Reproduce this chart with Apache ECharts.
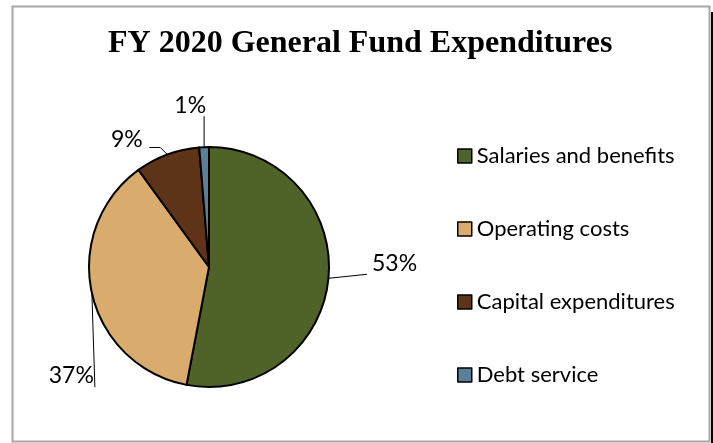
<!DOCTYPE html>
<html><head><meta charset="utf-8">
<script src="https://cdn.jsdelivr.net/npm/echarts@6/dist/echarts.min.js"></script>
<style>html,body{margin:0;padding:0;background:#fff}#c{width:713px;height:443px}</style>
</head><body><div id="c"></div>
<script>
const titleText = 'FY 2020 General Fund Expenditures';
const categories = ['Salaries and benefits', 'Operating costs', 'Capital expenditures', 'Debt service'];
const values = [53.0, 37.0, 8.7, 1.3];
const colors = ['#4F6228', '#D9AB6D', '#5E3318', '#5B7F96'];

// layout
const cx = 209, cy = 267, R = 120;
const labelCfg = [
  { dx: 43.5, dy: -15, align: 'left', line: [[38.5, -4]] },
  { dx: 2, dy: 82, align: 'right', line: [[3, 94]] },
  { dx: -24.5, dy: -14.5, align: 'right', line: [[-2, -2], [-7, -7], [-18, -7]] },
  { dx: 2, dy: -42, align: 'right', line: [[0, -31]] }
];

const total = values.reduce((a, b) => a + b, 0);
const midAngles = [];
let cum = 0;
values.forEach(v => { midAngles.push(2 * Math.PI * (cum + v / 2) / total); cum += v; });

function edgePoint(i) {
  const t = midAngles[i];
  return [cx + R * Math.sin(t), cy - R * Math.cos(t)];
}

const chart = echarts.init(document.getElementById('c'), null, { renderer: 'canvas' });
chart.setOption({
  animation: false,
  backgroundColor: '#fff',
  color: colors,
  title: {
    text: titleText,
    left: 108,
    top: 28,
    padding: 0,
    textStyle: { fontFamily: 'Liberation Serif', fontWeight: 'bold', fontSize: 32, color: '#000' }
  },
  graphic: [
    { type: 'rect', silent: true, shape: { x: 12.5, y: 6.5, width: 697, height: 435 },
      style: { fill: null, stroke: '#A6A6A6', lineWidth: 2 } },
    { type: 'line', silent: true, shape: { x1: 712, y1: 12, x2: 712, y2: 443 },
      style: { stroke: '#000', lineWidth: 2 } }
  ],
  legend: {
    orient: 'vertical',
    left: 457,
    top: 144,
    padding: 0,
    itemWidth: 14,
    itemHeight: 14,
    itemGap: 49,
    icon: 'rect',
    itemStyle: { borderColor: '#000', borderWidth: 1.5 },
    textStyle: { fontFamily: 'Lato', fontSize: 22, color: '#000', lineHeight: 24 },
    data: categories
  },
  series: [{
    type: 'pie',
    center: [cx, cy],
    radius: R,
    startAngle: 90,
    clockwise: true,
    avoidLabelOverlap: false,
    itemStyle: { borderColor: '#000', borderWidth: 2 },
    emphasis: { disabled: true },
    label: {
      show: true,
      position: 'outside',
      fontFamily: 'Lato',
      fontSize: 23,
      color: '#000',
      formatter: p => Math.round(p.value / total * 100) + '%'
    },
    labelLine: { show: true, lineStyle: { color: '#000', width: 1 } },
    labelLayout: function (params) {
      const i = params.dataIndex;
      const cfg = labelCfg[i];
      const e = edgePoint(i);
      const pts = [e].concat(cfg.line.map(d => [e[0] + d[0], e[1] + d[1]]));
      return {
        x: e[0] + cfg.dx,
        y: e[1] + cfg.dy,
        align: cfg.align,
        verticalAlign: 'middle',
        labelLinePoints: pts
      };
    },
    data: categories.map((name, i) => ({ name: name, value: values[i] }))
  }]
});
</script>
</body></html>
